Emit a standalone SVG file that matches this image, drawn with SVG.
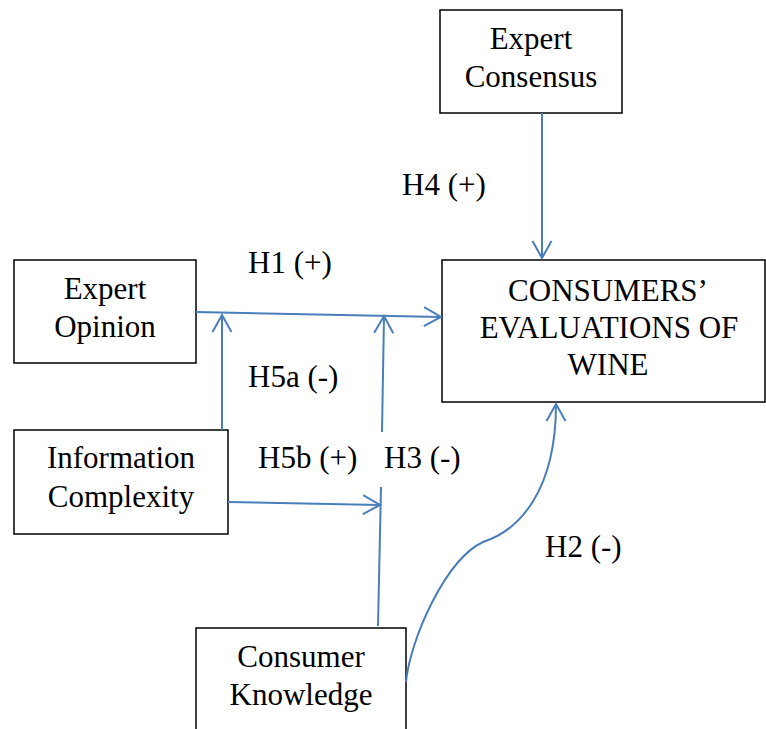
<svg xmlns="http://www.w3.org/2000/svg" width="766" height="729" viewBox="0 0 766 729">
  <style>
    .box { fill: #ffffff; stroke: #000000; stroke-width: 1.5; }
    .t { font-family: "Liberation Serif", "Times New Roman", serif; font-size: 31px; fill: #000000; }
    .c { text-anchor: middle; }
    .ln { fill: none; stroke: #4A7EBB; stroke-width: 2; }
  </style>
  <defs>
    <marker id="arr" markerUnits="userSpaceOnUse" markerWidth="20" markerHeight="22" refX="17" refY="10" orient="auto" overflow="visible">
      <path d="M0,0.5 L17,10 L0,19.5" fill="none" stroke="#4A7EBB" stroke-width="2"/>
    </marker>
  </defs>
  <rect width="766" height="729" fill="#ffffff"/>

  <g id="expert-consensus">
    <rect class="box" x="440" y="10" width="182" height="103"/>
    <text class="t c" x="531" y="49">Expert</text>
    <text class="t c" x="531" y="87">Consensus</text>
  </g>

  <g id="consumers-evaluations">
    <rect class="box" x="442" y="260" width="323" height="142"/>
    <text class="t c" x="608" y="301">CONSUMERS’</text>
    <text class="t c" x="609" y="338">EVALUATIONS OF</text>
    <text class="t c" x="608" y="375">WINE</text>
  </g>

  <g id="expert-opinion">
    <rect class="box" x="14" y="260" width="182" height="103"/>
    <text class="t c" x="105" y="299">Expert</text>
    <text class="t c" x="105" y="337">Opinion</text>
  </g>

  <g id="information-complexity">
    <rect class="box" x="14" y="430" width="214" height="104"/>
    <text class="t c" x="121" y="468">Information</text>
    <text class="t c" x="121" y="507">Complexity</text>
  </g>

  <g id="consumer-knowledge">
    <rect class="box" x="196" y="628" width="210" height="110"/>
    <text class="t c" x="301" y="667">Consumer</text>
    <text class="t c" x="301" y="705">Knowledge</text>
  </g>

  <g id="connectors">
    <line class="ln" x1="542" y1="113" x2="542" y2="258" marker-end="url(#arr)"/>
    <line class="ln" x1="196" y1="312" x2="441" y2="317" marker-end="url(#arr)"/>
    <line class="ln" x1="222" y1="430" x2="222" y2="315" marker-end="url(#arr)"/>
    <line class="ln" x1="228" y1="502" x2="380" y2="505" marker-end="url(#arr)"/>
    <line class="ln" x1="378" y1="626" x2="381" y2="487"/>
    <line class="ln" x1="382" y1="432" x2="384" y2="316" marker-end="url(#arr)"/>
    <path class="ln" d="M406,682 C410,640 445,560 483,542 C520,530 556,490 556,404" marker-end="url(#arr)"/>
  </g>

  <g id="labels">
    <text class="t" x="402" y="195">H4 (+)</text>
    <text class="t" x="248" y="273">H1 (+)</text>
    <text class="t" x="248" y="387">H5a (-)</text>
    <text class="t" x="258" y="468">H5b (+)</text>
    <text class="t" x="384" y="468">H3 (-)</text>
    <text class="t" x="545" y="557">H2 (-)</text>
  </g>
</svg>
